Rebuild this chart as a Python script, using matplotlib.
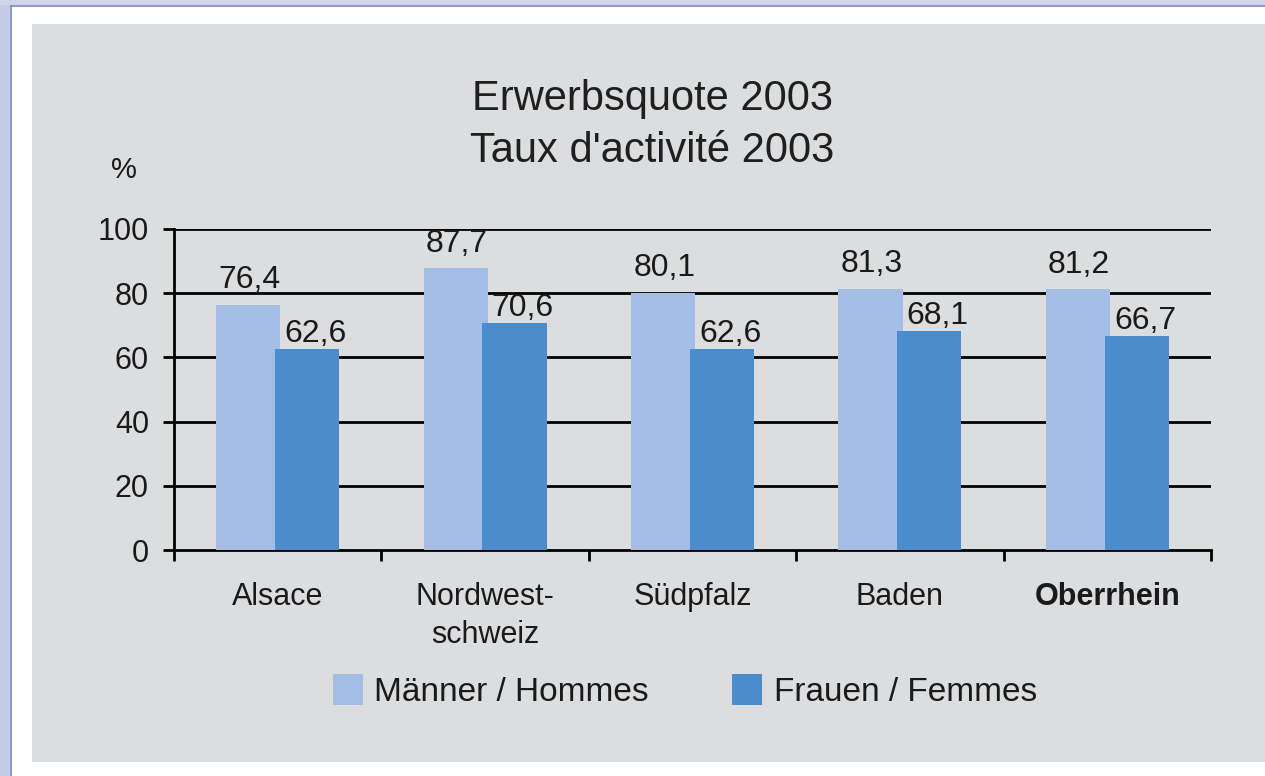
import matplotlib.pyplot as plt
import numpy as np
from matplotlib.patches import Rectangle, Patch
from matplotlib.lines import Line2D

# data
regions = ['Alsace', 'Nordwest-\nschweiz', 'Südpfalz', 'Baden', 'Oberrhein']
maenner = [76.4, 87.7, 80.1, 81.3, 81.2]
frauen = [62.6, 70.6, 62.6, 68.1, 66.7]
series_names = ['Männer / Hommes', 'Frauen / Femmes']
yticks = [0, 20, 40, 60, 80, 100]

c_m = '#a3bde4'
c_f = '#4a8ccc'
panel = '#dcdddf'

plt.rcParams['font.family'] = ['Liberation Sans', 'DejaVu Sans']

W, H = 1265, 776
fig = plt.figure(figsize=(W / 100, H / 100), dpi=100)
fig.patch.set_facecolor('white')

def fx(px):
    return px / W

def fy(py):
    return 1 - py / H

# page decoration: bluish strips and frame line, grey panel
fig.add_artist(Rectangle((0, 0), fx(10), 1, transform=fig.transFigure,
                         facecolor='#c4cde6', edgecolor='none', zorder=0))
fig.add_artist(Rectangle((0, fy(5)), 1, fy(0) - fy(5), transform=fig.transFigure,
                         facecolor='#d0d6ea', edgecolor='none', zorder=0))
fig.add_artist(Line2D([fx(10.5), fx(10.5)], [0, fy(5.5)], transform=fig.transFigure,
                      color='#7f7fc6', lw=1.2, zorder=1))
fig.add_artist(Line2D([fx(10.5), 1], [fy(5.5), fy(5.5)], transform=fig.transFigure,
                      color='#7f7fc6', lw=1.2, zorder=1))
fig.add_artist(Rectangle((fx(32), fy(762)), 1 - fx(32), fy(24) - fy(762),
                         transform=fig.transFigure, facecolor=panel,
                         edgecolor='none', zorder=0))

ax = fig.add_axes([fx(174), fy(550), fx(1211) - fx(174), fy(229) - fy(550)])
ax.set_facecolor('none')

x = np.arange(len(regions))
w = 0.31
off = 0.142
ax.bar(x - off, maenner, w, color=c_m, zorder=3)
ax.bar(x + off, frauen, w, color=c_f, zorder=3)

for xi, v in zip(x, maenner):
    ax.annotate(f'{v:.1f}'.replace('.', ','), (xi - off, v), xytext=(1, 12),
                textcoords='offset points', ha='center', va='baseline',
                fontsize=23, color='#1a1a1a')
for xi, v in zip(x, frauen):
    ax.annotate(f'{v:.1f}'.replace('.', ','), (xi + off, v), xytext=(6, 5),
                textcoords='offset points', ha='center', va='baseline',
                fontsize=23, color='#1a1a1a')

ax.set_xlim(-0.5, len(regions) - 0.5)
ax.set_ylim(0, 100)
ax.set_yticks(yticks)
ax.tick_params(axis='y', direction='out', length=8, width=2, labelsize=22, pad=10,
               labelcolor='#1a1a1a')
for yv in yticks[1:]:
    ax.axhline(yv, color='black', lw=2, zorder=1)

ax.set_xticks(np.arange(-0.5, len(regions), 1.0))
ax.set_xticklabels([])
ax.set_xticks(x, minor=True)
ax.set_xticklabels(regions, minor=True, fontsize=22, linespacing=1.35)
ax.tick_params(axis='x', which='major', direction='out', length=8, width=2)
ax.tick_params(axis='x', which='minor', length=0, pad=23, labelcolor='#1a1a1a')
ax.get_xticklabels(minor=True)[-1].set_fontweight('bold')

for s in ['top', 'right']:
    ax.spines[s].set_visible(False)
for s in ['left', 'bottom']:
    ax.spines[s].set_linewidth(2)
    ax.spines[s].set_zorder(2)

fig.text(fx(652), fy(99), 'Erwerbsquote 2003', ha='center', va='center', fontsize=30, color='#1f1f1f')
fig.text(fx(652), fy(151), "Taux d'activité 2003", ha='center', va='center', fontsize=30, color='#1f1f1f')
fig.text(fx(124), fy(170), '%', ha='center', va='center', fontsize=21, color='#1a1a1a')

handles = [Patch(facecolor=c_m, edgecolor='none'), Patch(facecolor=c_f, edgecolor='none')]
leg = fig.legend(handles, series_names, loc='center', bbox_to_anchor=(fx(685), fy(691)),
                 ncol=2, frameon=False, fontsize=24, handlelength=0.9, handleheight=1.05,
                 handletextpad=0.35, columnspacing=2.5)
for t in leg.get_texts():
    t.set_color('#1a1a1a')

fig.savefig('out.png', dpi=100)
